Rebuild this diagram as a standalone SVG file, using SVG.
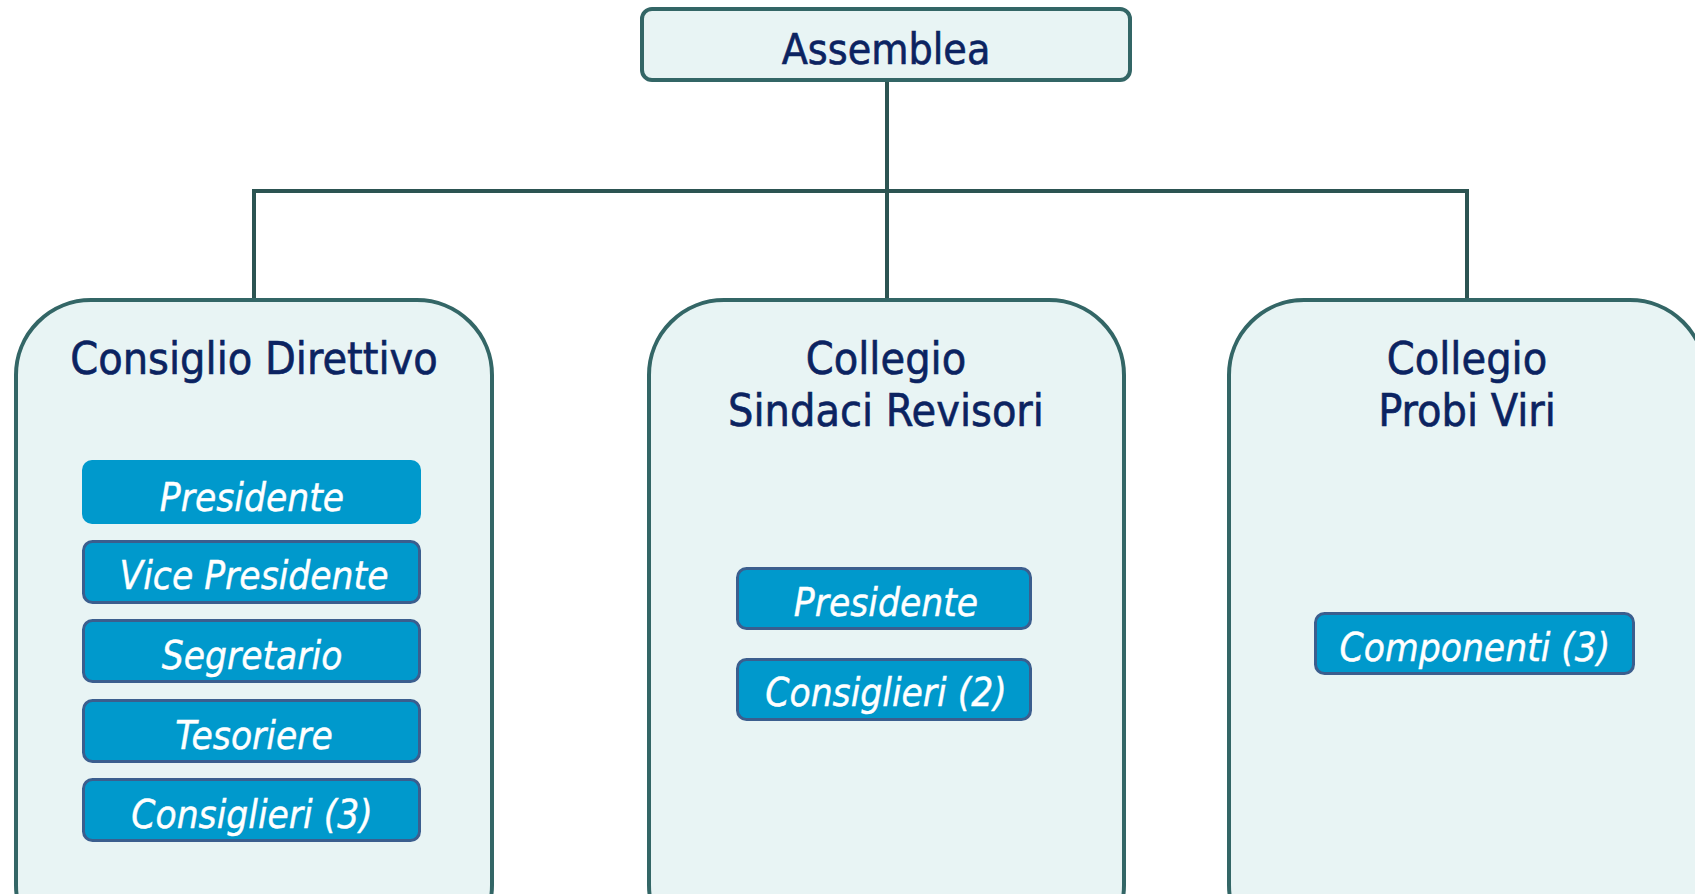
<svg xmlns="http://www.w3.org/2000/svg" width="1695" height="894" viewBox="0 0 1695 894">
<style>
.big{fill:#E8F4F4;stroke:#336666;stroke-width:4}
.t{font-family:"DejaVu Sans Condensed","DejaVu Sans",sans-serif;font-stretch:condensed;font-size:44.5px;fill:#0B2361;stroke:#0B2361;stroke-width:0.6;text-anchor:middle}
.sb{fill:#0099CC;stroke:#3B5E8E;stroke-width:3}
.st{font-family:"DejaVu Sans Condensed","DejaVu Sans",sans-serif;font-stretch:condensed;font-style:italic;font-size:38.5px;fill:#FFFFFF;stroke:#FFFFFF;stroke-width:0.4;text-anchor:middle}
.con{fill:none;stroke:#2C5452;stroke-width:4}
</style>
<rect width="1695" height="894" fill="#FFFFFF"/>
<g id="connectors">
<path class="con" d="M887 81 V299"/>
<path class="con" d="M254 299 V191 H1467 V299"/>
</g>
<g id="assemblea">
<rect class="big" x="642" y="9" width="488" height="71" rx="10"/>
<text class="t" x="886" y="64" style="font-size:42.5px">Assemblea</text>
</g>
<g id="consiglio-direttivo">
<rect class="big" x="16" y="300" width="476" height="660" rx="75"/>
<text class="t" x="254" y="374">Consiglio Direttivo</text>
</g>
<g id="cd-presidente">
<rect x="82" y="460" width="339" height="64" rx="10" fill="#0099CC"/>
<text class="st" x="252" y="511">Presidente</text>
</g>
<g id="cd-vice">
<rect class="sb" x="83.5" y="541.5" width="336" height="61" rx="9"/>
<text class="st" x="254" y="589">Vice Presidente</text>
</g>
<g id="cd-segretario">
<rect class="sb" x="83.5" y="620.5" width="336" height="61" rx="9"/>
<text class="st" x="252" y="669">Segretario</text>
</g>
<g id="cd-tesoriere">
<rect class="sb" x="83.5" y="700.5" width="336" height="61" rx="9"/>
<text class="st" x="254" y="749">Tesoriere</text>
</g>
<g id="cd-consiglieri">
<rect class="sb" x="83.5" y="779.5" width="336" height="61" rx="9"/>
<text class="st" x="252" y="828">Consiglieri (3)</text>
</g>
<g id="collegio-sindaci">
<rect class="big" x="649" y="300" width="475" height="660" rx="75"/>
<text class="t" x="886" y="374">Collegio</text>
<text class="t" x="886" y="426">Sindaci Revisori</text>
</g>
<g id="cs-presidente">
<rect class="sb" x="737.5" y="568.5" width="293" height="60" rx="9"/>
<text class="st" x="886" y="616">Presidente</text>
</g>
<g id="cs-consiglieri">
<rect class="sb" x="737.5" y="659.5" width="293" height="60" rx="9"/>
<text class="st" x="886" y="706">Consiglieri (2)</text>
</g>
<g id="collegio-probi">
<rect class="big" x="1229" y="300" width="476" height="660" rx="75"/>
<text class="t" x="1467" y="374">Collegio</text>
<text class="t" x="1467" y="426">Probi Viri</text>
</g>
<g id="cp-componenti">
<rect class="sb" x="1315.5" y="613.5" width="318" height="60" rx="9"/>
<text class="st" x="1475" y="661">Componenti (3)</text>
</g>
</svg>
